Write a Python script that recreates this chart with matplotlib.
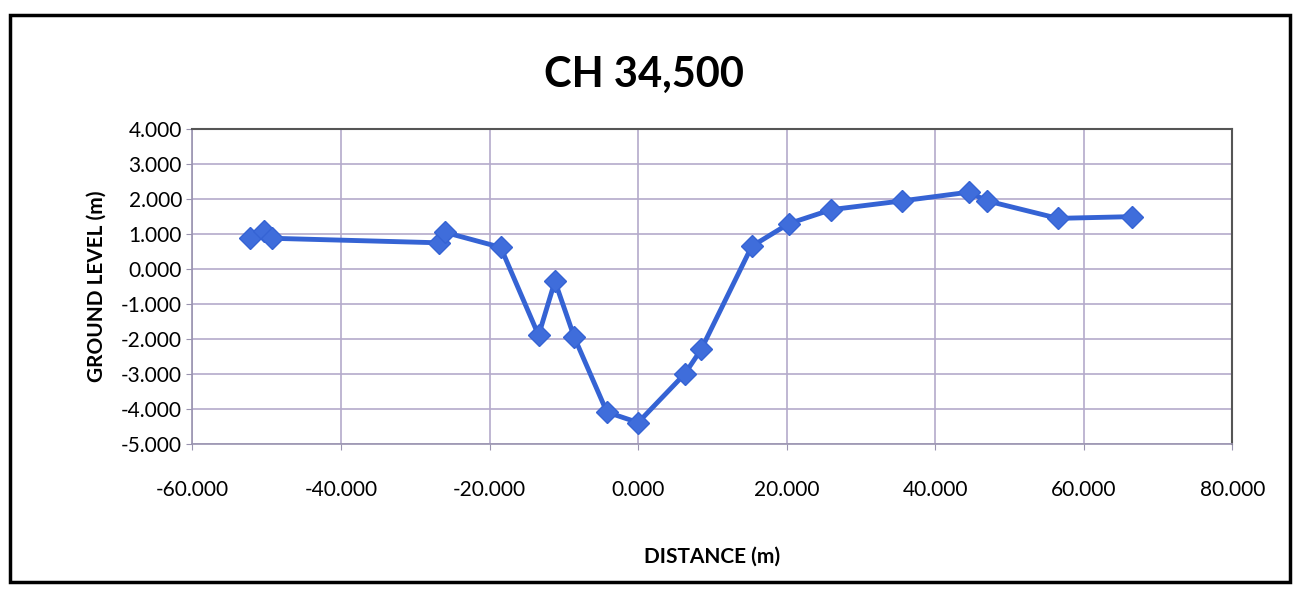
import matplotlib.pyplot as plt
from matplotlib.patches import Rectangle
from matplotlib.ticker import FormatStrFormatter

plt.rcParams['font.family'] = ['Lato', 'DejaVu Sans']

# cross section CH 34,500
distance = [-52.2, -50.3, -49.3, -26.8, -26.0, -18.5, -13.4, -11.2, -8.6,
            -4.2, 0.0, 6.3, 8.5, 15.3, 20.3, 26.0, 35.5, 44.5, 47.0, 56.5, 66.5]
level = [0.90, 1.10, 0.88, 0.75, 1.05, 0.62, -1.90, -0.35, -1.95,
         -4.10, -4.40, -3.00, -2.30, 0.65, 1.30, 1.70, 1.95, 2.20, 1.95, 1.45, 1.50]

x_ticks = [-60, -40, -20, 0, 20, 40, 60, 80]
y_ticks = [4, 3, 2, 1, 0, -1, -2, -3, -4, -5]

fig = plt.figure(figsize=(13, 6.16), dpi=100)
ax = fig.add_axes([0.148, 0.28, 0.80, 0.51])

ax.plot(distance, level, color='#3563d4', lw=3.5, marker='D', ms=11,
        markerfacecolor='#3f6ddb', markeredgecolor='#3563d4', zorder=3)

ax.set_xlim(-60, 80)
ax.set_ylim(-5, 4)
ax.set_xticks(x_ticks)
ax.set_yticks(y_ticks)
ax.xaxis.set_major_formatter(FormatStrFormatter('%.3f'))
ax.yaxis.set_major_formatter(FormatStrFormatter('%.3f'))
ax.tick_params(axis='both', labelsize=15, length=4, color='#9a94b0')
ax.tick_params(axis='x', pad=22)
ax.grid(True, color='#b4aacb', lw=1.2)

for side in ['top', 'right']:
    ax.spines[side].set_color('#555555')
    ax.spines[side].set_linewidth(1.5)
for side in ['left', 'bottom']:
    ax.spines[side].set_color('#9a94b0')
    ax.spines[side].set_linewidth(1.2)

fig.text(0.495, 0.878, 'CH 34,500', fontsize=30, fontweight='bold',
         ha='center', va='center')
ax.set_xlabel('DISTANCE (m)', fontsize=15, fontweight='bold', labelpad=34)
ax.set_ylabel('GROUND LEVEL (m)', fontsize=15, fontweight='bold', labelpad=10)

# chart outline
fig.patches.append(Rectangle((0.008, 0.055), 0.984, 0.92, transform=fig.transFigure,
                             fill=False, edgecolor='black', lw=2.5))

fig.savefig('out.png', dpi=100, facecolor='white')
